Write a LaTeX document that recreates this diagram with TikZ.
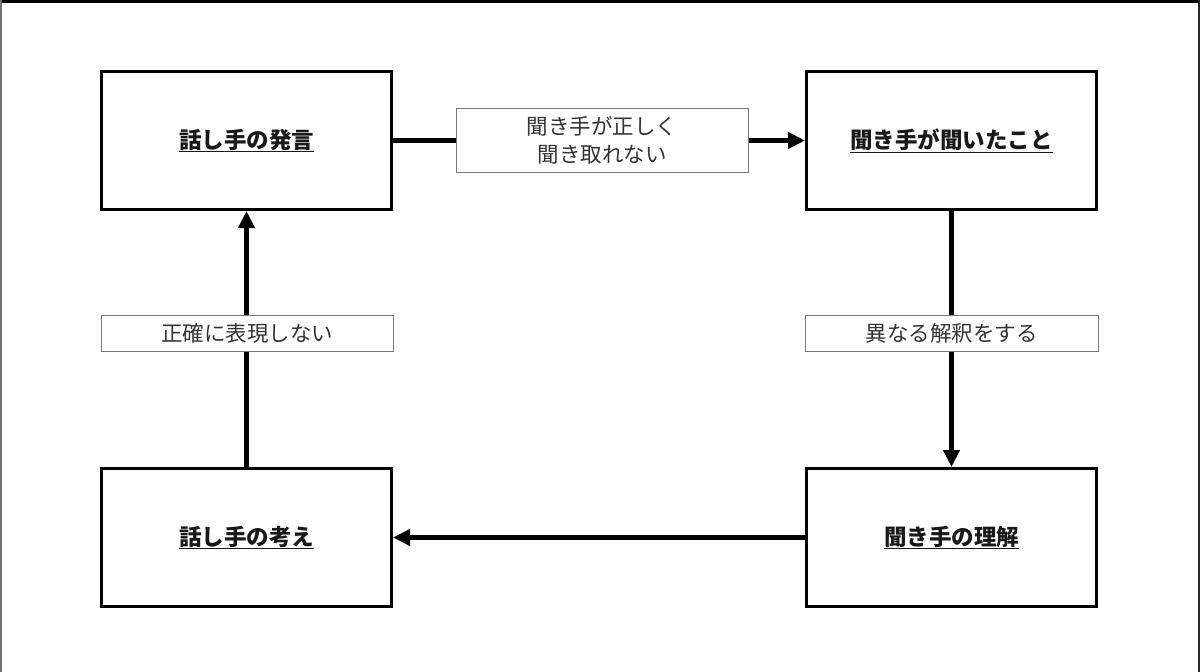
\documentclass[tikz,border=0pt]{standalone}
\usepackage{fontspec}
\setmainfont{Noto Sans CJK JP}
\usetikzlibrary{arrows.meta}
\definecolor{labgray}{HTML}{7A7A7A}
\definecolor{labtext}{HTML}{333333}
\tikzset{
  mainbox/.style={draw=black, line width=3pt, minimum width=290pt, minimum height=138pt, inner sep=0pt, font=\fontsize{22.5}{26}\selectfont\bfseries, text=black!90},
  labbox/.style={draw=labgray, line width=1pt, fill=white, inner sep=0pt, font=\fontsize{21.5}{28}\selectfont, text=labtext, align=center},
  flow/.style={line width=5pt, -{Triangle[length=17pt,width=16pt]}}
}
\begin{document}
\begin{tikzpicture}[x=1pt,y=-1pt]
\useasboundingbox (0,0) rectangle (1200,672);
\draw[line width=3pt] (0,1.5) -- (1200,1.5);
\draw[line width=1.5pt, black!55] (0.75,0) -- (0.75,672);
\draw[line width=2pt, black!85] (1199,0) -- (1199,672);
\node[mainbox] (say) at (246.5,140.5) {\underline{話し手の発言}};
\node[mainbox] (heard) at (951.5,140.5) {\underline{聞き手が聞いたこと}};
\node[mainbox] (think) at (246.5,537.5) {\underline{話し手の考え}};
\node[mainbox] (under) at (951.5,537.5) {\underline{聞き手の理解}};
\draw[flow] (say.east) -- (heard.west);
\draw[flow] (heard.south) -- (under.north);
\draw[flow] (under.west) -- (think.east);
\draw[flow] (think.north) -- (say.south);
\node[labbox, minimum width=292pt, minimum height=64pt] (l1) at (602,140) {聞き手が正しく\\聞き取れない};
\node[labbox, minimum width=292pt, minimum height=36pt] (l2) at (247,333) {正確に表現しない};
\node[labbox, minimum width=293pt, minimum height=36pt] (l3) at (951.5,333) {異なる解釈をする};
\end{tikzpicture}
\end{document}
